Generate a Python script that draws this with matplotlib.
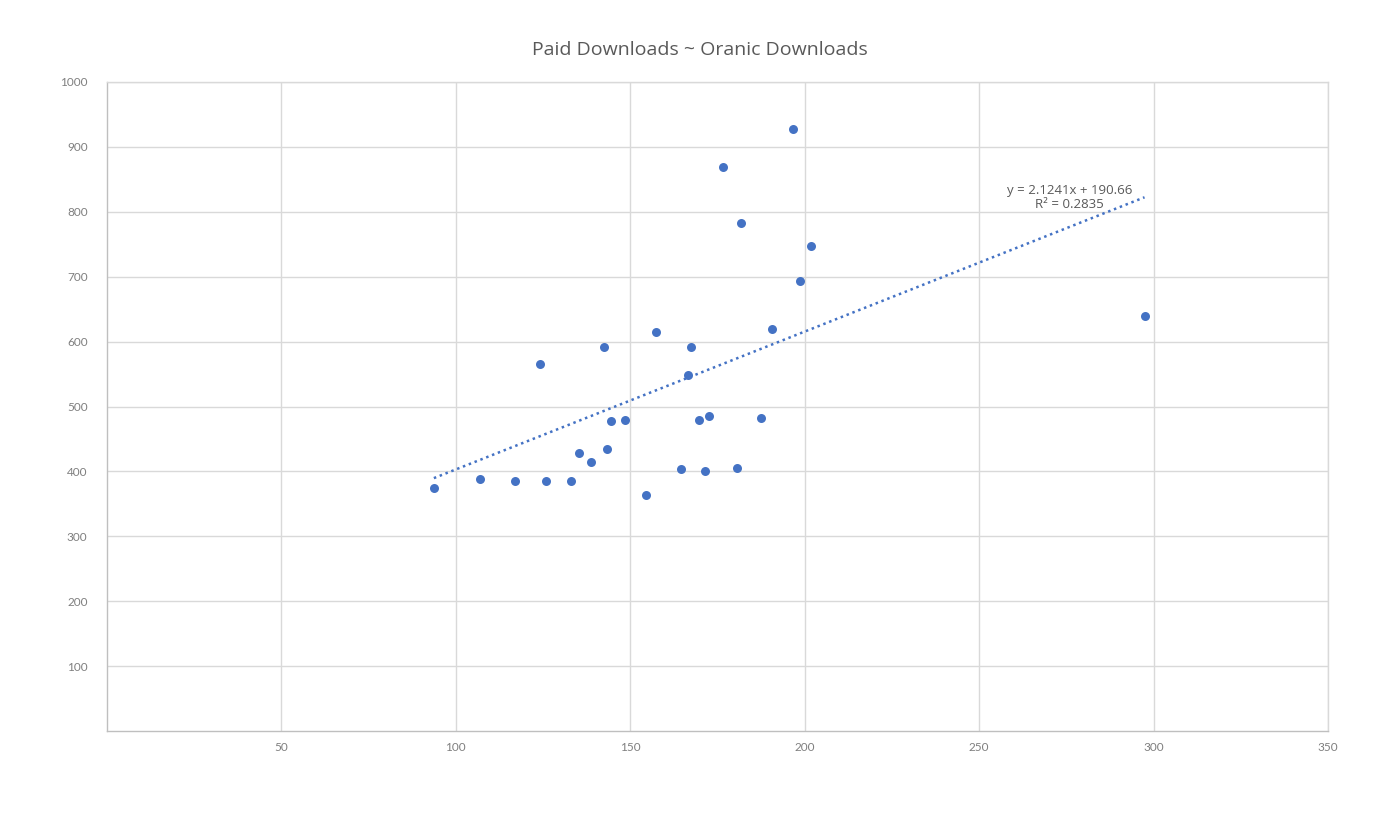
import matplotlib.pyplot as plt

# organic downloads (x) vs paid downloads (y)
organic = [93.7, 106.9, 116.9, 125.7, 132.9, 124.0, 135.4, 138.6, 142.6, 143.4,
           144.6, 148.6, 154.6, 157.4, 164.6, 166.6, 167.4, 169.7, 171.4, 172.6,
           176.6, 180.6, 181.7, 187.4, 190.6, 196.6, 198.6, 201.7, 297.4]
paid = [375, 388, 385, 385, 385, 565, 428, 414, 591, 435,
        477, 480, 363, 615, 403, 548, 591, 479, 400, 485,
        869, 406, 782, 483, 620, 928, 694, 748, 640]

slope = 2.1241
intercept = 190.66
r2 = 0.2835

x_ticks = [50, 100, 150, 200, 250, 300, 350]
y_ticks = [100, 200, 300, 400, 500, 600, 700, 800, 900, 1000]

blue = '#4472C4'
grid_c = '#D9D9D9'
text_c = '#595959'

plt.rcParams['font.family'] = ['Lato', 'DejaVu Sans']

fig = plt.figure(figsize=(14, 8.15), dpi=100)
ax = fig.add_axes([0.0764, 0.103, 0.8722, 0.7964])

ax.scatter(organic, paid, s=42, color=blue, zorder=3, linewidths=0)

# linear trendline
x0, x1 = min(organic), max(organic)
ax.plot([x0, x1], [slope * x0 + intercept, slope * x1 + intercept],
        linestyle=(0, (1, 1.5)), color=blue, linewidth=1.8, zorder=2)

ax.text(276, 801, f'y = {slope}x + {intercept}\nR² = {r2}', ha='center', va='bottom',
        fontsize=9.5, color=text_c, family=['Open Sans', 'DejaVu Sans'], linespacing=1.1)

ax.set_xlim(0, 350)
ax.set_ylim(0, 1000)
ax.set_xticks(x_ticks)
ax.set_yticks(y_ticks)
ax.tick_params(length=0, labelsize=8.5, labelcolor='#7F7F7F')
ax.tick_params(axis='x', pad=8)
ax.tick_params(axis='y', pad=14)
ax.grid(True, color=grid_c, linewidth=1)
ax.set_axisbelow(True)
for s in ax.spines.values():
    s.set_color(grid_c)
    s.set_linewidth(1)
ax.spines['left'].set_color('#BFBFBF')
ax.spines['bottom'].set_color('#BFBFBF')

fig.text(0.5, 1 - 50 / 815, 'Paid Downloads ~ Oranic Downloads', ha='center', va='center',
         fontsize=14, color=text_c, family=['Open Sans', 'DejaVu Sans'])

fig.savefig('out.png', dpi=100, facecolor='white')
